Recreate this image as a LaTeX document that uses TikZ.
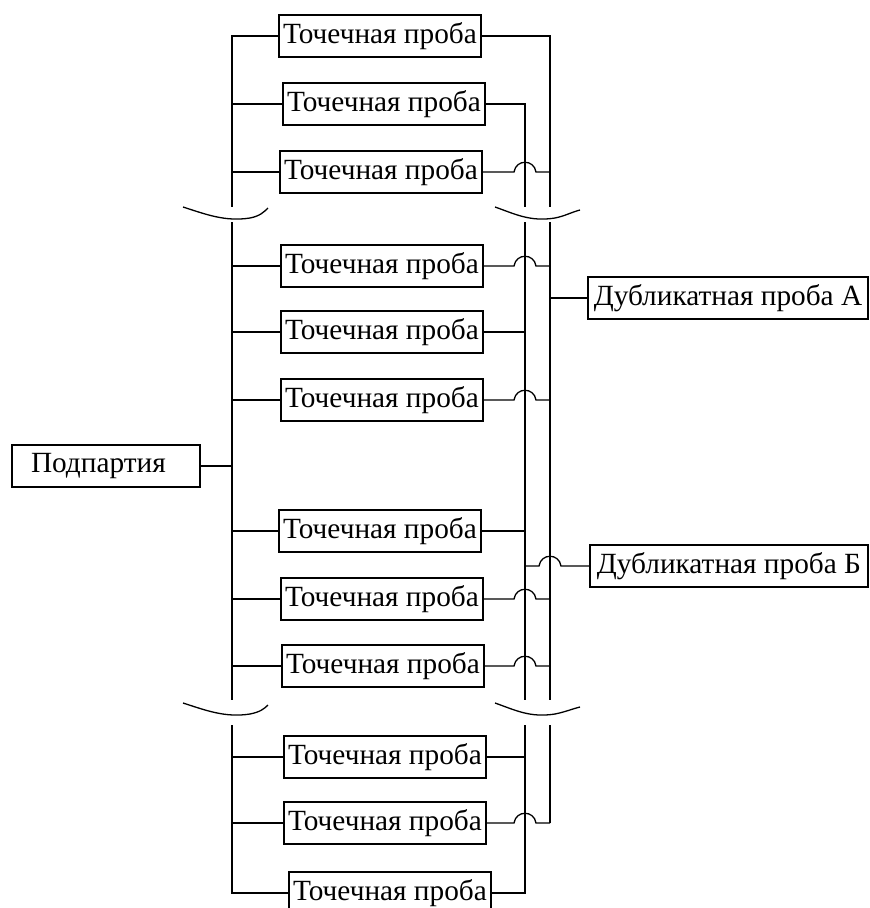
\documentclass[tikz,border=0pt]{standalone}
\usepackage{fontspec}
\setmainfont{Liberation Serif}
\usetikzlibrary{calc}
\begin{document}
\begin{tikzpicture}[x=1pt,y=-1pt,
  box/.style={draw,line width=2pt,minimum height=42pt,inner sep=0pt,font=\fontsize{29.3}{31}\selectfont},
  tbox/.style={box,minimum width=202pt},
  ln/.style={line width=1.3pt},
  brk/.style={line width=1.3pt}]
\useasboundingbox (0,0) rectangle (870,908);
\clip (0,0) rectangle (870,908);
% nodes
\node[tbox] (p1) at (380,36) {Точечная проба};
\node[tbox] (p2) at (384,104) {Точечная проба};
\node[tbox] (p3) at (381,172) {Точечная проба};
\node[tbox] (p4) at (382,266) {Точечная проба};
\node[tbox] (p5) at (382,332) {Точечная проба};
\node[tbox] (p6) at (382,400) {Точечная проба};
\node[tbox] (p7) at (380,531) {Точечная проба};
\node[tbox] (p8) at (382,599) {Точечная проба};
\node[tbox] (p9) at (383,666) {Точечная проба};
\node[tbox] (p10) at (385,757) {Точечная проба};
\node[tbox] (p11) at (385,823) {Точечная проба};
\node[tbox] (p12) at (390,893) {Точечная проба};
\node[box,minimum width=188pt,text width=150pt,align=left] (sub) at (106,466) {Подпартия};
\node[box,minimum width=280pt] (dA) at (728,298) {Дубликатная проба А};
\node[box,minimum width=278pt] (dB) at (729,566) {Дубликатная проба Б};
% bus coordinates
\coordinate (L) at (232,0);
\coordinate (inner) at (525,0);
\coordinate (outer) at (550,0);
\coordinate (LA1) at (232,207); \coordinate (LA2) at (232,222);
\coordinate (LB1) at (232,700); \coordinate (LB2) at (232,725);
\coordinate (IA1) at (525,207); \coordinate (IA2) at (525,222);
\coordinate (IB1) at (525,700); \coordinate (IB2) at (525,725);
\coordinate (OA1) at (550,207); \coordinate (OA2) at (550,222);
\coordinate (OB1) at (550,700); \coordinate (OB2) at (550,725);
% left bus
\draw[ln] (p1.west) -| (LA1);
\draw[ln] (LA2) -- (LB1);
\draw[ln] (LB2) |- (p12.west);
\foreach \n in {p2,p3,p4,p5,p6,p7,p8,p9,p10,p11}{
  \draw[ln] (\n.west) -- (L|-\n.west);
}
\draw[ln] (sub.east) -- (L|-sub.east);
% inner bus
\draw[ln] (p2.east) -| (IA1);
\draw[ln] (IA2) -- (IB1);
\draw[ln] (IB2) |- (p12.east);
\foreach \n in {p5,p7,p10}{\draw[ln] (\n.east) -- (inner|-\n.east);}
% outer bus
\draw[ln] (p1.east) -| (OA1);
\draw[ln] (OA2) -- (OB1);
\draw[ln] (OB2) -- (outer|-p11.east);
\foreach \n in {p3,p4,p6,p8,p9,p11}{
  \draw[ln] (\n.east) -- ($(inner|-\n.east)+(-11,0)$)
     .. controls +(2,-13) and +(-2,-13) .. ($(inner|-\n.east)+(11,0)$)
     -- (outer|-\n.east);
}
\draw[ln] (outer|-dA.west) -- (dA.west);
\draw[ln] (inner|-dB.west) -- ($(outer|-dB.west)+(-11,0)$)
     .. controls +(2,-13) and +(-2,-13) .. ($(outer|-dB.west)+(11,0)$)
     -- (dB.west);
% break marks
\draw[brk] (183,207) .. controls (205,214) and (225,222) .. (250,218) .. controls (260,216) and (264,212) .. (268,208);
\draw[brk] (495,207) .. controls (515,214) and (530,222) .. (555,218) .. controls (565,216) and (572,212) .. (580,210);
\draw[brk] (183,703) .. controls (205,710) and (225,718) .. (250,714) .. controls (260,712) and (264,709) .. (268,705);
\draw[brk] (495,703) .. controls (515,710) and (530,718) .. (555,714) .. controls (565,712) and (572,709) .. (580,707);
\end{tikzpicture}
\end{document}
